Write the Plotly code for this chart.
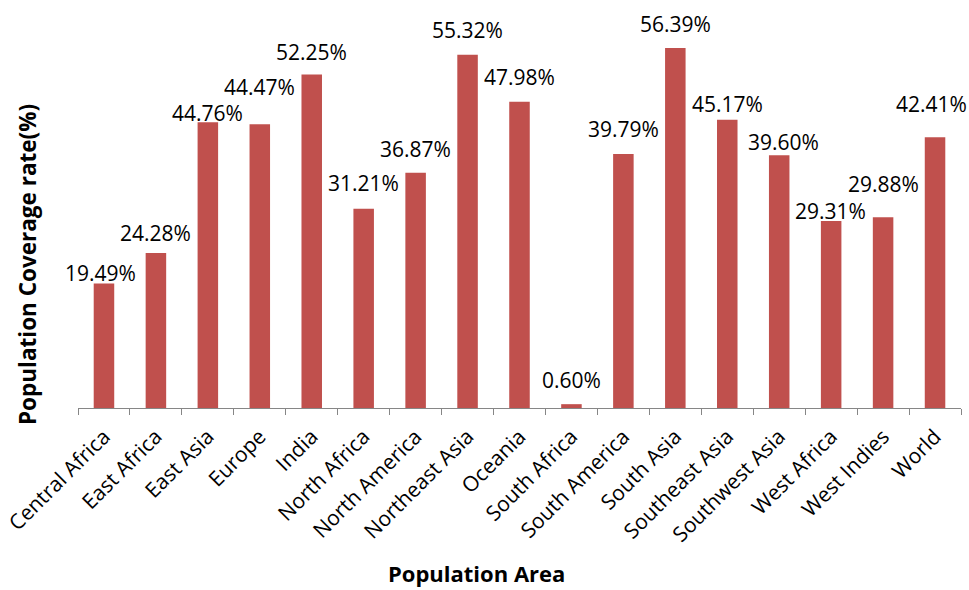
import plotly.graph_objects as go

areas = ["Central Africa", "East Africa", "East Asia", "Europe", "India",
         "North Africa", "North America", "Northeast Asia", "Oceania",
         "South Africa", "South America", "South Asia", "Southeast Asia",
         "Southwest Asia", "West Africa", "West Indies", "World"]
coverage = [19.49, 24.28, 44.76, 44.47, 52.25, 31.21, 36.87, 55.32, 47.98,
            0.60, 39.79, 56.39, 45.17, 39.60, 29.31, 29.88, 42.41]

# hand-placed label offsets (px) relative to each bar top
label_dx = [-3, 0, 0, 0, 0, 0, 0, 0, 0, 0, 0, 0, 0, 4, -1, 0, -4]
label_dy = [11, 20, 9, 37, 22, 26, 24, 25, 25, 24, 25, 24, 16, 13, 10, 33, 33]

FONT = "Open Sans"
BAR = "#C0504D"

fig = go.Figure(go.Bar(
    x=areas, y=coverage, marker=dict(color=BAR, line=dict(width=0)),
    width=0.395, hoverinfo="skip",
))

annotations = []
for a, v, dx, dy in zip(areas, coverage, label_dx, label_dy):
    annotations.append(dict(
        x=a, y=v, xref="x", yref="y", text=f"{v:.2f}%", showarrow=False,
        xshift=dx, yshift=dy, font=dict(family=FONT, size=21, color="#000000"),
    ))

annotations.append(dict(
    x=-0.057, y=0.375, xref="paper", yref="paper", xanchor="center", yanchor="middle",
    text="<b>Population Coverage rate(%)</b>",
    textangle=-90, showarrow=False, font=dict(family=FONT, size=22.5, color="#000000"),
))
annotations.append(dict(
    x=0.451, y=-0.432, xref="paper", yref="paper", xanchor="center", yanchor="middle",
    text="<b>Population Area</b>", borderpad=0,
    showarrow=False, font=dict(family=FONT, size=22, color="#000000"),
))

fig.update_layout(
    width=969, height=590,
    margin=dict(l=78, r=8, t=25, b=182, autoexpand=False),
    paper_bgcolor="white", plot_bgcolor="white",
    showlegend=False,
    annotations=annotations,
    xaxis=dict(
        range=[-0.5, len(areas) - 0.5], automargin=False,
        showline=True, linecolor="#868686", linewidth=1,
        ticks="outside", tickson="boundaries", ticklen=6, tickcolor="#868686",
        tickangle=-45, ticklabelstandoff=7,
        tickfont=dict(family=FONT, size=21, color="#000000"),
        showgrid=False, zeroline=False,
    ),
    yaxis=dict(
        range=[0, 60], automargin=False, showticklabels=False, showgrid=False,
        zeroline=False, showline=False, ticks="",
    ),
)

fig.write_html("out.html")
